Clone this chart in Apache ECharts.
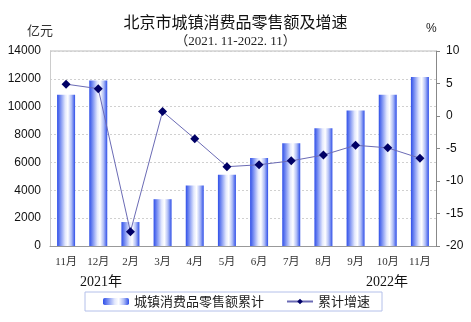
<!DOCTYPE html>
<html>
<head>
<meta charset="utf-8">
<script src="https://cdn.jsdelivr.net/npm/echarts@6/dist/echarts.min.js"></script>
<style>
  html, body { margin: 0; padding: 0; background: #ffffff; }
  #chart { width: 471px; height: 322px; }
</style>
</head>
<body>
<div id="chart"></div>
<script>
// Monthly labels, 2021.11 – 2022.11
const months = ['11月', '12月', '2月', '3月', '4月', '5月', '6月', '7月', '8月', '9月', '10月', '11月'];
// Cumulative urban retail sales (亿元)
const salesCumulative = [10860, 11890, 1720, 3360, 4340, 5110, 6310, 7380, 8460, 9730, 10860, 12140];
// Cumulative growth rate (%)
const growthRate = [4.9, 4.2, -17.8, 0.7, -3.5, -7.8, -7.5, -6.9, -6.0, -4.5, -4.9, -6.5];
// Axis tick settings
const leftAxisMax = 14000, leftAxisStep = 2000;
const rightAxisMin = -20, rightAxisMax = 10, rightAxisStep = 5;

const serifFont = '"Liberation Serif", "Noto Sans CJK SC", serif';
const sansFont = '"Liberation Sans", Arial, sans-serif';
const cjkFont = '"Noto Sans CJK SC", sans-serif';

const barGradient = new echarts.graphic.LinearGradient(0, 0, 1, 0, [
  { offset: 0, color: '#2f4fe8' },
  { offset: 0.15, color: '#6a82f0' },
  { offset: 0.45, color: '#e4e9fd' },
  { offset: 0.6, color: '#ffffff' },
  { offset: 0.8, color: '#aebcf6' },
  { offset: 1, color: '#2f4fe8' }
]);

const gridLeft = 50, gridRight = 35, gridTop = 51, gridBottom = 76;

const chart = echarts.init(document.getElementById('chart'), null, { renderer: 'canvas' });

chart.setOption({
  animation: false,
  backgroundColor: '#ffffff',
  title: {
    text: '北京市城镇消费品零售额及增速',
    subtext: '（2021. 11-2022. 11）',
    left: 'center',
    top: 9,
    itemGap: 5,
    textStyle: { fontFamily: cjkFont, fontSize: 16, fontWeight: 'normal', color: '#111' },
    subtextStyle: { fontFamily: serifFont, fontSize: 13, color: '#222' }
  },
  graphic: [
    { type: 'text', left: 27, top: 24, style: { text: '亿元', font: '13px "Noto Sans CJK SC"', fill: '#333' } },
    { type: 'text', left: 426, top: 23, style: { text: '%', font: '12px "Liberation Sans"', fill: '#222' } },
    { type: 'text', left: 80, top: 275, style: { text: '2021年', font: '14px "Liberation Serif", "Noto Sans CJK SC"', fill: '#111' } },
    { type: 'text', left: 366, top: 275, style: { text: '2022年', font: '14px "Liberation Serif", "Noto Sans CJK SC"', fill: '#111' } },
    { type: 'line', shape: { x1: gridLeft, y1: gridTop, x2: 471 - gridRight, y2: gridTop }, style: { stroke: '#bbb', lineWidth: 1 } }
  ],
  legend: {
    left: 85,
    top: 292,
    width: 298,
    height: 20,
    padding: [3, 12, 3, 18],
    itemGap: 22,
    itemWidth: 26,
    itemHeight: 7,
    borderColor: '#b4c0ea',
    borderWidth: 1,
    textStyle: { fontFamily: cjkFont, fontSize: 13, color: '#222' },
    data: ['城镇消费品零售额累计', '累计增速']
  },
  grid: { left: gridLeft, right: gridRight, top: gridTop, bottom: gridBottom },
  xAxis: {
    type: 'category',
    data: months,
    axisLine: { lineStyle: { color: '#999', width: 1 } },
    axisTick: { show: false },
    axisLabel: { fontFamily: serifFont, fontSize: 11, color: '#333', margin: 11, interval: 0 }
  },
  yAxis: [
    {
      type: 'value',
      min: 0,
      max: leftAxisMax,
      interval: leftAxisStep,
      axisLine: { show: true, lineStyle: { color: '#ccc' } },
      axisTick: { show: false },
      axisLabel: { fontFamily: sansFont, fontSize: 12, color: '#111', margin: 9, formatter: v => String(v) },
      splitLine: { show: true, lineStyle: { color: '#d0d0d0', type: [2, 2] } }
    },
    {
      type: 'value',
      min: rightAxisMin,
      max: rightAxisMax,
      interval: rightAxisStep,
      position: 'right',
      axisLine: { show: true, lineStyle: { color: '#888' } },
      axisTick: { show: true, length: 4, lineStyle: { color: '#888' } },
      axisLabel: { fontFamily: sansFont, fontSize: 12, color: '#111', margin: 10, formatter: v => String(v) },
      splitLine: { show: false }
    }
  ],
  series: [
    {
      name: '城镇消费品零售额累计',
      type: 'bar',
      yAxisIndex: 0,
      data: salesCumulative,
      barWidth: 18,
      itemStyle: { color: barGradient }
    },
    {
      name: '累计增速',
      type: 'line',
      yAxisIndex: 1,
      data: growthRate,
      symbol: 'diamond',
      symbolSize: 9,
      lineStyle: { color: '#6b6bb5', width: 1 },
      itemStyle: { color: '#000066' },
      z: 5
    }
  ]
});
</script>
</body>
</html>
